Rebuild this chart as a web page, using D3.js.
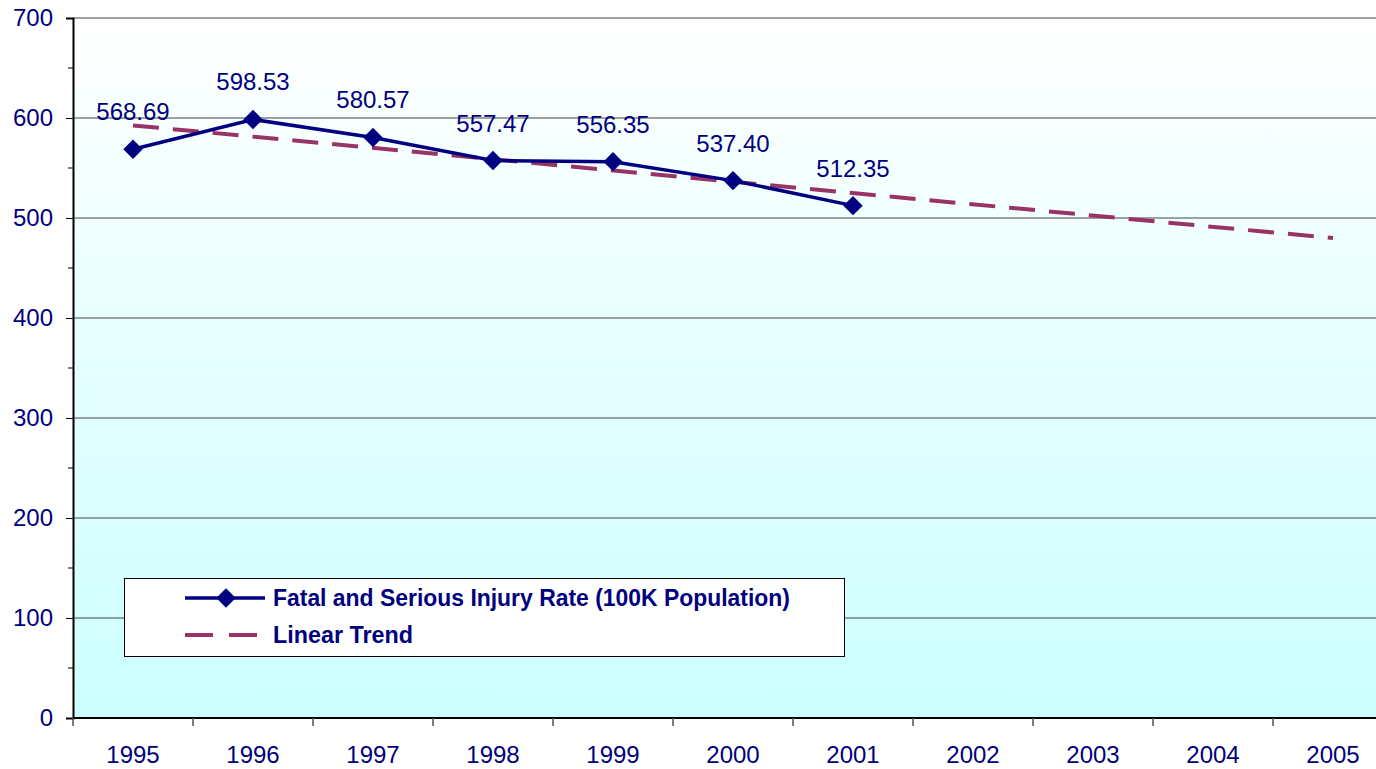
<!DOCTYPE html>
<html>
<head>
<meta charset="utf-8">
<script src="https://cdnjs.cloudflare.com/ajax/libs/d3/7.8.5/d3.min.js"></script>
<style>
  body { margin: 0; background: #fff; overflow: hidden; }
  svg { display: block; }
</style>
</head>
<body>
<svg id="chart" width="1376" height="769"></svg>
<script>
// Chart data
const years = ["1995", "1996", "1997", "1998", "1999", "2000", "2001", "2002", "2003", "2004", "2005"];
const rateYears = ["1995", "1996", "1997", "1998", "1999", "2000", "2001"];
const rateValues = [568.69, 598.53, 580.57, 557.47, 556.35, 537.40, 512.35];
const trendYears = ["1995", "2005"];
const trendValues = [592.6, 479.9];
const yTicks = [0, 100, 200, 300, 400, 500, 600, 700];
const legendLabels = ["Fatal and Serious Injury Rate (100K Population)", "Linear Trend"];

const navy = "#000080";
const trendColor = "#993366";
const font = "'Liberation Sans', Arial, sans-serif";

const svg = d3.select("#chart");
const margin = {top: 18, left: 73};
const plotW = 1320, plotH = 700;

const x = d3.scaleBand().domain(years).range([margin.left, margin.left + plotW]);
const y = d3.scaleLinear().domain([0, 700]).range([margin.top + plotH, margin.top]);
const cx = d => x(d) + x.bandwidth() / 2;

// Background gradient
const defs = svg.append("defs");
const grad = defs.append("linearGradient")
    .attr("id", "bg").attr("x1", 0).attr("y1", 0).attr("x2", 0).attr("y2", 1);
grad.append("stop").attr("offset", "0%").attr("stop-color", "#ffffff");
grad.append("stop").attr("offset", "100%").attr("stop-color", "#ccffff");

svg.append("rect")
    .attr("x", margin.left).attr("y", margin.top)
    .attr("width", plotW).attr("height", plotH)
    .attr("fill", "url(#bg)");

// Gridlines
svg.append("g")
    .selectAll("line")
    .data(yTicks.filter(d => d > 0))
    .join("line")
    .attr("x1", margin.left).attr("x2", margin.left + plotW)
    .attr("y1", d => y(d)).attr("y2", d => y(d))
    .attr("stroke", "#444").attr("stroke-width", 1);

// Y axis
const yAxis = svg.append("g")
    .attr("transform", `translate(${margin.left},0)`)
    .call(d3.axisLeft(y).tickValues(yTicks).tickSize(7).tickPadding(13));
yAxis.select(".domain").attr("stroke", "#000").attr("stroke-width", 2);
yAxis.selectAll(".tick line").attr("stroke", "#000");
yAxis.selectAll("text")
    .attr("fill", navy)
    .style("font-family", font)
    .style("font-size", "24px");

// Y minor ticks
svg.append("g")
    .selectAll("line")
    .data(d3.range(50, 700, 100))
    .join("line")
    .attr("x1", margin.left - 5).attr("x2", margin.left)
    .attr("y1", d => y(d)).attr("y2", d => y(d))
    .attr("stroke", "#000");

// X axis
svg.append("line")
    .attr("x1", margin.left).attr("x2", margin.left + plotW)
    .attr("y1", y(0)).attr("y2", y(0))
    .attr("stroke", "#000").attr("stroke-width", 2);

svg.append("g")
    .selectAll("line")
    .data(years)
    .join("line")
    .attr("x1", d => x(d)).attr("x2", d => x(d))
    .attr("y1", y(0)).attr("y2", y(0) + 8)
    .attr("stroke", "#555").attr("stroke-width", 1.5);

svg.append("g")
    .selectAll("text")
    .data(years)
    .join("text")
    .attr("x", d => cx(d))
    .attr("y", 763)
    .attr("text-anchor", "middle")
    .attr("fill", navy)
    .style("font-family", font)
    .style("font-size", "24px")
    .text(d => d);

// Linear trend
const trendData = trendYears.map((d, i) => ({year: d, value: trendValues[i]}));
svg.append("path")
    .datum(trendData)
    .attr("fill", "none")
    .attr("stroke", trendColor)
    .attr("stroke-width", 4)
    .attr("stroke-dasharray", "26,14")
    .attr("d", d3.line().x(d => cx(d.year)).y(d => y(d.value)));

// Rate series
const rateData = rateYears.map((d, i) => ({year: d, value: rateValues[i]}));
svg.append("path")
    .datum(rateData)
    .attr("fill", "none")
    .attr("stroke", navy)
    .attr("stroke-width", 3.5)
    .attr("d", d3.line().x(d => cx(d.year)).y(d => y(d.value)));

const diamond = d3.symbol().type(d3.symbolDiamond2).size(240);
svg.append("g")
    .selectAll("path")
    .data(rateData)
    .join("path")
    .attr("transform", d => `translate(${cx(d.year)},${y(d.value)})`)
    .attr("d", diamond)
    .attr("fill", navy);

// Data labels
svg.append("g")
    .selectAll("text")
    .data(rateData)
    .join("text")
    .attr("x", d => cx(d.year))
    .attr("y", d => y(d.value) - 29)
    .attr("text-anchor", "middle")
    .attr("fill", navy)
    .style("font-family", font)
    .style("font-size", "24px")
    .text(d => d.value.toFixed(2));

// Legend
const legend = svg.append("g");
legend.append("rect")
    .attr("x", 124.5).attr("y", 578.5)
    .attr("width", 720).attr("height", 78)
    .attr("fill", "#fff").attr("stroke", "#000").attr("stroke-width", 1);

legend.append("line")
    .attr("x1", 185).attr("x2", 265).attr("y1", 598).attr("y2", 598)
    .attr("stroke", navy).attr("stroke-width", 3.5);
legend.append("path")
    .attr("transform", "translate(226,598)")
    .attr("d", diamond)
    .attr("fill", navy);
legend.append("line")
    .attr("x1", 185).attr("x2", 265).attr("y1", 635).attr("y2", 635)
    .attr("stroke", trendColor).attr("stroke-width", 4)
    .attr("stroke-dasharray", "28,16");

const legendWidths = [517, 140];
legend.selectAll("text")
    .data(legendLabels)
    .join("text")
    .attr("x", 273)
    .attr("y", (d, i) => 606 + i * 37)
    .attr("fill", navy)
    .attr("textLength", (d, i) => legendWidths[i])
    .attr("lengthAdjust", "spacingAndGlyphs")
    .style("font-family", font)
    .style("font-weight", "bold")
    .style("font-size", "23px")
    .text(d => d);
</script>
</body>
</html>
